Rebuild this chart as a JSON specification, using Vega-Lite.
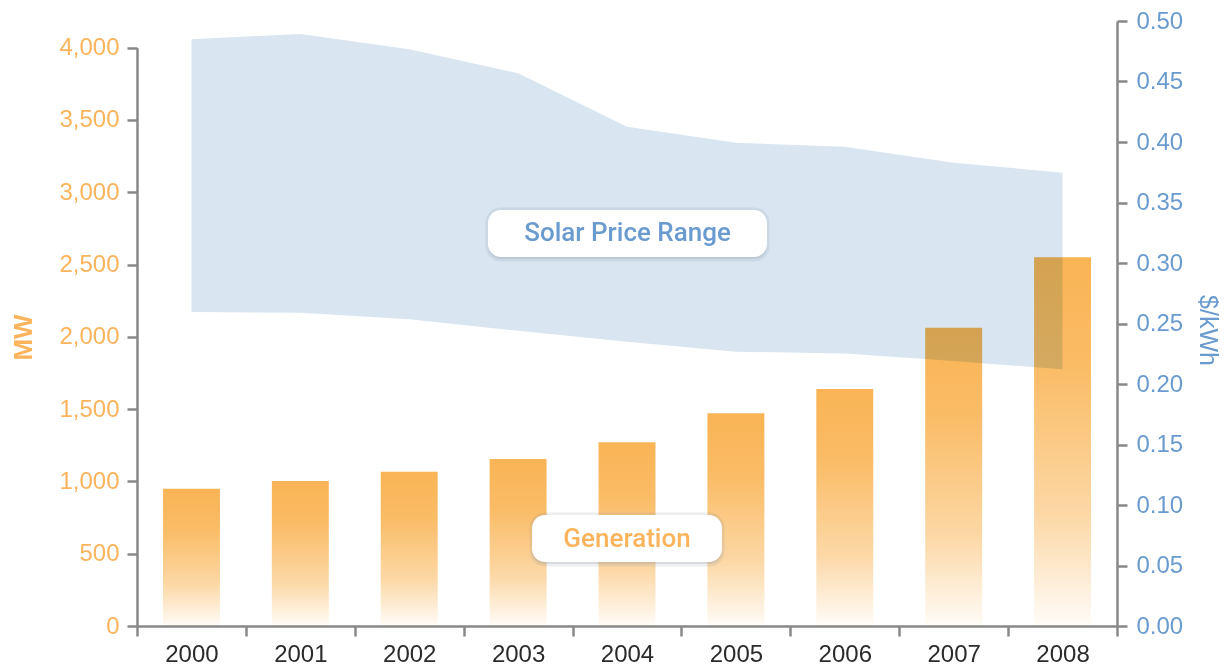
{
  "$schema": "https://vega.github.io/schema/vega-lite/v6.json",
  "width": 980,
  "height": 605,
  "autosize": {"type": "none"},
  "padding": {"left": 137, "top": 21, "right": 114, "bottom": 42},
  "background": "white",
  "config": {
    "view": {"stroke": null},
    "font": "Liberation Sans",
    "axis": {
      "domainColor": "#888888",
      "domainWidth": 2.5,
      "tickColor": "#888888",
      "tickWidth": 2.5,
      "tickSize": 10,
      "grid": false,
      "labelFont": "Liberation Sans",
      "titleFont": "Liberation Sans"
    }
  },
  "datasets": {
    "solar": [
      {"year": "2000", "mw": 950, "lo": 0.2595, "hi": 0.4849},
      {"year": "2001", "mw": 1003, "lo": 0.2589, "hi": 0.4893},
      {"year": "2002", "mw": 1067, "lo": 0.2535, "hi": 0.4766},
      {"year": "2003", "mw": 1155, "lo": 0.2440, "hi": 0.4568},
      {"year": "2004", "mw": 1271, "lo": 0.2350, "hi": 0.4127},
      {"year": "2005", "mw": 1471, "lo": 0.2267, "hi": 0.3994},
      {"year": "2006", "mw": 1639, "lo": 0.2253, "hi": 0.3961},
      {"year": "2007", "mw": 2063, "lo": 0.2190, "hi": 0.3829},
      {"year": "2008", "mw": 2550, "lo": 0.2121, "hi": 0.3746}
    ],
    "notes": [
      {"label": "Solar Price Range", "x0": 3.223, "x1": 5.786, "p0": 0.3050, "p1": 0.3438, "xc": 4.505, "pc": 0.3244},
      {"label": "Generation", "x0": 3.628, "x1": 5.372, "p0": 0.0529, "p1": 0.0917, "xc": 4.5, "pc": 0.0723}
    ]
  },
  "layer": [
    {
      "data": {"name": "solar"},
      "mark": {"type": "area", "color": "#D9E6F2", "interpolate": "linear"},
      "encoding": {
        "x": {"field": "year", "type": "ordinal", "scale": {"paddingInner": 0, "paddingOuter": 0}, "axis": null},
        "y": {
          "field": "hi", "type": "quantitative",
          "scale": {"domain": [0, 0.5], "nice": false, "zero": true},
          "axis": {
            "orient": "right",
            "values": [0, 0.05, 0.1, 0.15, 0.2, 0.25, 0.3, 0.35, 0.4, 0.45, 0.5],
            "format": ".2f",
            "labelColor": "#6A9BCF",
            "labelFontSize": 24,
            "labelPadding": 9,
            "title": "$/kWh",
            "titleColor": "#6A9BCF",
            "titleFontSize": 25,
            "titleFontWeight": "normal",
            "titleAngle": 90,
            "titleBaseline": "middle",
            "titleAlign": "center",
            "titleX": 90,
            "titleY": 309
          }
        },
        "y2": {"field": "lo"}
      }
    },
    {
      "data": {"name": "solar"},
      "mark": {
        "type": "bar",
        "width": {"band": 0.523},
        "blend": "multiply",
        "color": {
          "gradient": "linear",
          "x1": 0, "y1": 0, "x2": 0, "y2": 1,
          "stops": [
            {"offset": 0, "color": "#F9B455"},
            {"offset": 0.3, "color": "#FABC66"},
            {"offset": 0.7, "color": "#FCD8A6"},
            {"offset": 1, "color": "#FFFCF8"}
          ]
        }
      },
      "encoding": {
        "x": {
          "field": "year", "type": "ordinal",
          "scale": {"paddingInner": 0, "paddingOuter": 0},
          "axis": {
            "title": null,
            "labelAngle": 0,
            "labelFontSize": 24,
            "labelColor": "#2B2B2B",
            "labelPadding": 6,
            "tickBand": "extent"
          }
        },
        "y": {
          "field": "mw", "type": "quantitative",
          "scale": {"domain": [0, 4000], "nice": false, "range": [605, 26.7]},
          "axis": {
            "orient": "left",
            "values": [0, 500, 1000, 1500, 2000, 2500, 3000, 3500, 4000],
            "format": ",.0f",
            "labelColor": "#FBB45C",
            "labelFontSize": 24,
            "labelPadding": 8,
            "title": "MW",
            "titleColor": "#FBB45C",
            "titleFontSize": 26,
            "titleFontWeight": "bold",
            "titleAngle": -90,
            "titleBaseline": "middle",
            "titleAlign": "center",
            "titleX": -114,
            "titleY": 316
          }
        }
      }
    },
    {
      "data": {"name": "notes"},
      "layer": [
        {
          "mark": {"type": "rect", "cornerRadius": 13, "fill": "#7d8b9c", "fillOpacity": 0.2, "stroke": "#7d8b9c", "strokeOpacity": 0.15, "strokeWidth": 5, "yOffset": 2},
          "encoding": {
            "x": {"field": "x0", "type": "quantitative", "scale": {"domain": [0, 9], "nice": false, "zero": false}, "axis": null},
            "x2": {"field": "x1"},
            "y": {"field": "p0", "type": "quantitative", "scale": {"domain": [0, 0.5], "nice": false}, "axis": null},
            "y2": {"field": "p1"}
          }
        },
        {
          "mark": {"type": "rect", "cornerRadius": 13, "fill": "white"},
          "encoding": {
            "x": {"field": "x0", "type": "quantitative", "scale": {"domain": [0, 9], "nice": false, "zero": false}, "axis": null},
            "x2": {"field": "x1"},
            "y": {"field": "p0", "type": "quantitative", "scale": {"domain": [0, 0.5], "nice": false}, "axis": null},
            "y2": {"field": "p1"}
          }
        },
        {
          "mark": {"type": "text", "fontSize": 26, "fontWeight": 500, "align": "center", "baseline": "middle", "font": "Roboto"},
          "encoding": {
            "x": {"field": "xc", "type": "quantitative", "scale": {"domain": [0, 9], "nice": false, "zero": false}, "axis": null},
            "y": {"field": "pc", "type": "quantitative", "scale": {"domain": [0, 0.5], "nice": false}, "axis": null},
            "text": {"field": "label"},
            "color": {"field": "label", "type": "nominal", "scale": {"domain": ["Solar Price Range", "Generation"], "range": ["#6A9BCF", "#FBB45C"]}, "legend": null}
          }
        }
      ]
    }
  ],
  "resolve": {
    "scale": {"x": "independent", "y": "independent", "color": "independent"},
    "axis": {"x": "independent", "y": "independent"}
  }
}
